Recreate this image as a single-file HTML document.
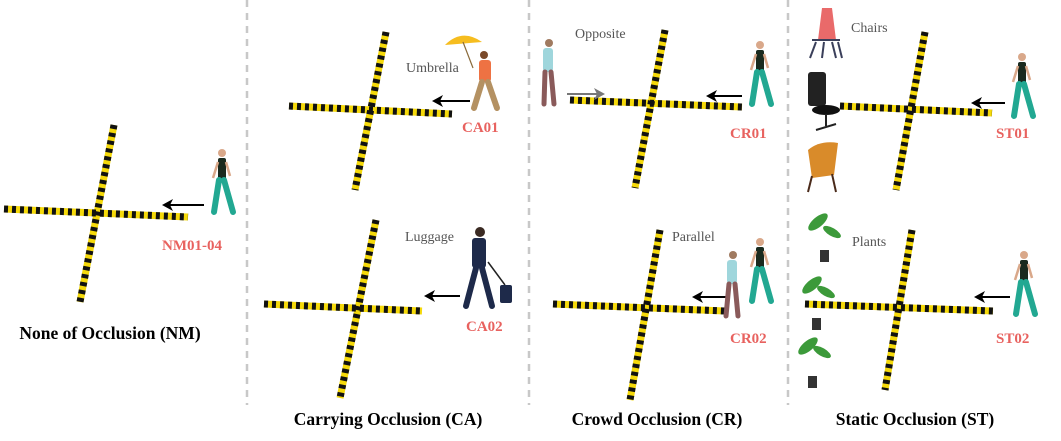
<!DOCTYPE html>
<html><head><meta charset="utf-8"><style>
html,body{margin:0;padding:0;background:#fff;}
svg{display:block;}
.lbl{font-family:"Liberation Serif",serif;font-size:14px;fill:#555;}
.code{font-family:"Liberation Serif",serif;font-size:15px;font-weight:bold;fill:#e8625f;}
.title{font-family:"Liberation Serif",serif;font-size:17.5px;font-weight:bold;fill:#000;}
</style></head><body>
<svg width="1061" height="441" viewBox="0 0 1061 441" xmlns="http://www.w3.org/2000/svg">
<defs>
<marker id="ah" markerWidth="12" markerHeight="12" refX="8" refY="6" orient="auto" markerUnits="userSpaceOnUse">
<path d="M0,0 L11,6 L0,12 L3,6 Z" fill="#000"/></marker>
<marker id="ahg" markerWidth="12" markerHeight="12" refX="8" refY="6" orient="auto" markerUnits="userSpaceOnUse">
<path d="M0,0 L11,6 L0,12 L3,6 Z" fill="#777"/></marker>
<g id="walker">
<circle cx="12" cy="5" r="4" fill="#d9a88a"/>
<rect x="8" y="10" width="8" height="22" rx="2" fill="#1a2a1e"/>
<path d="M8,14 L3,30" stroke="#d9a88a" stroke-width="2.5"/>
<path d="M16,14 L20,28" stroke="#d9a88a" stroke-width="2.5"/>
<path d="M9,32 L4,64 M14,32 L23,64" stroke="#22a892" stroke-width="6" stroke-linecap="round"/>
</g>
</defs>
<g stroke="#c8c8c8" stroke-width="2.5" stroke-dasharray="7,6">
<line x1="247" y1="0" x2="247" y2="405"/>
<line x1="529" y1="0" x2="529" y2="405"/>
<line x1="788" y1="0" x2="788" y2="405"/>
</g>
<g stroke-width="7" fill="none">
<g stroke="#f5d90a">
<line x1="4" y1="209" x2="188" y2="217"/><line x1="114" y1="125" x2="80" y2="302"/>
<line x1="289" y1="106" x2="452" y2="114"/><line x1="386" y1="32" x2="355" y2="190"/>
<line x1="264" y1="304" x2="422" y2="311"/><line x1="376" y1="220" x2="340" y2="398"/>
<line x1="570" y1="100" x2="742" y2="107"/><line x1="665" y1="30" x2="635" y2="188"/>
<line x1="553" y1="304" x2="725" y2="311"/><line x1="660" y1="230" x2="630" y2="400"/>
<line x1="840" y1="106" x2="992" y2="113"/><line x1="925" y1="32" x2="896" y2="190"/>
<line x1="805" y1="304" x2="993" y2="311"/><line x1="912" y1="230" x2="885" y2="390"/>
</g>
<g stroke="#111" stroke-dasharray="4,4">
<line x1="4" y1="209" x2="188" y2="217"/><line x1="114" y1="125" x2="80" y2="302"/>
<line x1="289" y1="106" x2="452" y2="114"/><line x1="386" y1="32" x2="355" y2="190"/>
<line x1="264" y1="304" x2="422" y2="311"/><line x1="376" y1="220" x2="340" y2="398"/>
<line x1="570" y1="100" x2="742" y2="107"/><line x1="665" y1="30" x2="635" y2="188"/>
<line x1="553" y1="304" x2="725" y2="311"/><line x1="660" y1="230" x2="630" y2="400"/>
<line x1="840" y1="106" x2="992" y2="113"/><line x1="925" y1="32" x2="896" y2="190"/>
<line x1="805" y1="304" x2="993" y2="311"/><line x1="912" y1="230" x2="885" y2="390"/>
</g>
</g>
<g stroke="#000" stroke-width="2" marker-end="url(#ah)">
<line x1="204" y1="205" x2="165" y2="205"/>
<line x1="470" y1="101" x2="435" y2="101"/>
<line x1="460" y1="296" x2="427" y2="296"/>
<line x1="742" y1="96" x2="709" y2="96"/>
<line x1="728" y1="297" x2="695" y2="297"/>
<line x1="1005" y1="103" x2="974" y2="103"/>
<line x1="1010" y1="297" x2="977" y2="297"/>
</g>
<line x1="567" y1="94" x2="602" y2="94" stroke="#777" stroke-width="2" marker-end="url(#ahg)"/>
<use href="#walker" x="210" y="148"/>
<use href="#walker" x="748" y="40"/>
<use href="#walker" x="1010" y="52"/>
<use href="#walker" x="748" y="237"/>
<use href="#walker" x="1012" y="250"/>
<!-- umbrella man -->
<path d="M445,45 Q462,28 482,42 Z" fill="#f6bd1f"/>
<line x1="463" y1="42" x2="473" y2="68" stroke="#8a6a3a" stroke-width="1.2"/>
<circle cx="484" cy="55" r="4" fill="#7a4a2a"/>
<rect x="479" y="60" width="12" height="22" rx="3" fill="#ee7243"/>
<path d="M482,82 L474,108 M488,82 L497,108" stroke="#b49162" stroke-width="6" stroke-linecap="round"/>
<!-- luggage man -->
<circle cx="480" cy="232" r="5" fill="#3a2a22"/>
<rect x="472" y="238" width="14" height="30" rx="3" fill="#1e2a4a"/>
<path d="M476,268 L466,306 M482,268 L492,306" stroke="#1e2a4a" stroke-width="6" stroke-linecap="round"/>
<line x1="488" y1="262" x2="505" y2="285" stroke="#222" stroke-width="1.5"/>
<rect x="500" y="285" width="12" height="18" rx="2" fill="#1e2a4a"/>
<!-- opposite woman -->
<circle cx="549" cy="43" r="4" fill="#a07a60"/>
<rect x="543" y="48" width="10" height="24" rx="3" fill="#9fd6dc"/>
<path d="M545,72 L544,104 M551,72 L554,104" stroke="#8a5a5a" stroke-width="5" stroke-linecap="round"/>
<!-- parallel woman -->
<circle cx="733" cy="255" r="4" fill="#a07a60"/>
<rect x="727" y="260" width="10" height="24" rx="3" fill="#9fd6dc"/>
<path d="M729,284 L726,316 M735,284 L738,316" stroke="#8a5a5a" stroke-width="5" stroke-linecap="round"/>
<!-- chairs -->
<path d="M822,8 L832,8 L836,40 L818,40 Z" fill="#e96a6a"/>
<path d="M812,40 L840,40 M816,42 L810,58 M824,42 L822,58 M832,42 L836,58 M838,42 L842,58" stroke="#3a3f5a" stroke-width="2"/>
<rect x="808" y="72" width="18" height="34" rx="3" fill="#222"/>
<ellipse cx="826" cy="110" rx="14" ry="5" fill="#111"/>
<path d="M826,114 L826,126 M816,130 L836,124" stroke="#222" stroke-width="2"/>
<path d="M808,150 Q820,140 838,143 L834,175 L812,178 Z" fill="#d98b2a"/>
<path d="M812,176 L808,192 M832,174 L836,192" stroke="#4a2a1a" stroke-width="2"/>
<!-- plants -->
<g fill="#3c9a3a">
<ellipse cx="818" cy="222" rx="12" ry="5" transform="rotate(-40 818 222)"/><ellipse cx="832" cy="232" rx="10" ry="4" transform="rotate(30 832 232)"/>
<ellipse cx="812" cy="285" rx="12" ry="5" transform="rotate(-40 812 285)"/><ellipse cx="826" cy="292" rx="10" ry="4" transform="rotate(30 826 292)"/>
<ellipse cx="808" cy="346" rx="12" ry="5" transform="rotate(-40 808 346)"/><ellipse cx="822" cy="352" rx="10" ry="4" transform="rotate(30 822 352)"/>
</g>
<rect x="820" y="250" width="9" height="12" fill="#333"/>
<rect x="812" y="318" width="9" height="12" fill="#333"/>
<rect x="808" y="376" width="9" height="12" fill="#333"/>
<!-- labels -->
<text class="lbl" x="406" y="72">Umbrella</text>
<text class="lbl" x="405" y="241">Luggage</text>
<text class="lbl" x="575" y="38">Opposite</text>
<text class="lbl" x="672" y="241">Parallel</text>
<text class="lbl" x="851" y="32">Chairs</text>
<text class="lbl" x="852" y="246">Plants</text>
<text class="code" x="162" y="250">NM01-04</text>
<text class="code" x="462" y="132">CA01</text>
<text class="code" x="466" y="331">CA02</text>
<text class="code" x="730" y="138">CR01</text>
<text class="code" x="730" y="343">CR02</text>
<text class="code" x="996" y="138">ST01</text>
<text class="code" x="996" y="343">ST02</text>
<text class="title" x="110" y="339" text-anchor="middle">None of Occlusion (NM)</text>
<text class="title" x="388" y="425" text-anchor="middle">Carrying Occlusion (CA)</text>
<text class="title" x="657" y="425" text-anchor="middle">Crowd Occlusion (CR)</text>
<text class="title" x="915" y="425" text-anchor="middle">Static Occlusion (ST)</text>
</svg>
</body></html>
